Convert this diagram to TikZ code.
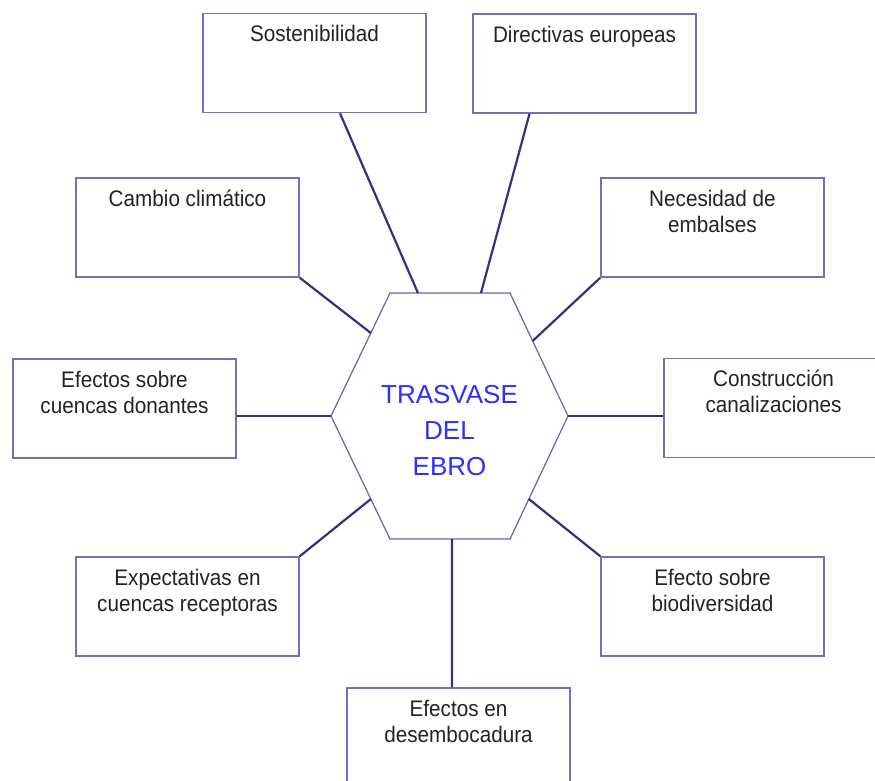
\documentclass[tikz,border=0pt]{standalone}
\usepackage{fontspec}
\setmainfont{Liberation Sans}[FakeStretch=0.92]
\newfontfamily\hexfont{Liberation Sans}
\usetikzlibrary{calc}
\definecolor{boxline}{RGB}{112,112,190}
\definecolor{conn}{RGB}{50,50,128}
\definecolor{hexline}{RGB}{100,100,180}
\definecolor{hextext}{RGB}{45,45,255}
\definecolor{txt}{RGB}{35,35,35}
\begin{document}
\begin{tikzpicture}[x=1pt,y=-1pt,
  topicbox/.style={draw=boxline, line width=1.6pt, minimum width=223pt, minimum height=99pt, inner sep=0pt, fill=white},
  topictext/.style={anchor=north, align=center, text=txt, font=\fontsize{22.5}{26}\selectfont, inner sep=0pt},
  link/.style={draw=conn, line width=2.2pt},
  hexedge/.style={draw=hexline, line width=1.2pt}]
\useasboundingbox (0,0) rectangle (875,780);
\clip (0,0) rectangle (875,780);
\fill[white] (0,0) rectangle (875,780);

% hexagon
\coordinate (hL) at (331,416);
\coordinate (hTL) at (390,293);
\coordinate (hTR) at (510,293);
\coordinate (hR) at (568,416);
\coordinate (hBR) at (510,539);
\coordinate (hBL) at (390,539);
\draw[hexedge] (hL) -- (hTL) -- (hTR) -- (hR) -- (hBR) -- (hBL) -- cycle;
\node[font=\hexfont\fontsize{26}{36}\selectfont, text=hextext, align=center, inner sep=0pt] (hex) at (449.5,431) {TRASVASE\\DEL\\EBRO};

% attachment points on the hexagon
\coordinate (hx-sost) at ($(hTL)!0.233!(hTR)$);
\coordinate (hx-dir) at ($(hTL)!0.758!(hTR)$);
\coordinate (hx-cam) at ($(hL)!0.675!(hTL)$);
\coordinate (hx-nec) at ($(hR)!0.61!(hTR)$);
\coordinate (hx-exp) at ($(hL)!0.675!(hBL)$);
\coordinate (hx-bio) at ($(hR)!0.675!(hBR)$);
\coordinate (hx-des) at ($(hBL)!0.517!(hBR)$);

% boxes
\node[topicbox] (sost) at (314.5,63) {};
\node[topicbox] (dir) at (584.5,63.5) {};
\node[topicbox] (cam) at (187.5,227.5) {};
\node[topicbox] (nec) at (712.5,227.5) {};
\node[topicbox] (don) at (124.5,408.5) {};
\node[topicbox] (cons) at (775.5,408) {};
\node[topicbox] (expe) at (187.5,606.5) {};
\node[topicbox] (bio) at (712.5,606.5) {};
\node[topicbox] (des) at (458.5,737.5) {};

% texts
\node[topictext] (sost-t) at ([yshift=-12.5pt]sost.north) {Sostenibilidad};
\node[topictext] (dir-t) at ([yshift=-12.5pt]dir.north) {Directivas europeas};
\node[topictext] (cam-t) at ([yshift=-12.5pt]cam.north) {Cambio climático};
\node[topictext] (nec-t) at ([yshift=-12.5pt]nec.north) {Necesidad de\\embalses};
\node[topictext] (don-t) at ([yshift=-12.5pt]don.north) {Efectos sobre\\cuencas donantes};
\node[topictext] (cons-t) at ([yshift=-12.5pt,xshift=-2pt]cons.north) {Construcción\\canalizaciones};
\node[topictext] (expe-t) at ([yshift=-12.5pt]expe.north) {Expectativas en\\cuencas receptoras};
\node[topictext] (bio-t) at ([yshift=-12.5pt]bio.north) {Efecto sobre\\biodiversidad};
\node[topictext] (des-t) at ([yshift=-12.5pt]des.north) {Efectos en\\desembocadura};

% box attachment points
\coordinate (b-sost) at ([xshift=25.5pt]sost.south);
\coordinate (b-dir) at ([xshift=-55pt]dir.south);
\coordinate (b-don) at ([yshift=-7.5pt]don.east);
\coordinate (b-cons) at ([yshift=-8pt]cons.west);
\coordinate (b-des) at ([xshift=-6.5pt]des.north);

% connectors
\draw[link] (b-sost) -- (hx-sost);
\draw[link] (b-dir) -- (hx-dir);
\draw[link] (cam.south east) -- (hx-cam);
\draw[link] (nec.south west) -- (hx-nec);
\draw[link] (b-don) -- (hL);
\draw[link] (hR) -- (b-cons);
\draw[link] (expe.north east) -- (hx-exp);
\draw[link] (bio.north west) -- (hx-bio);
\draw[link] (hx-des) -- (b-des);
\end{tikzpicture}
\end{document}
